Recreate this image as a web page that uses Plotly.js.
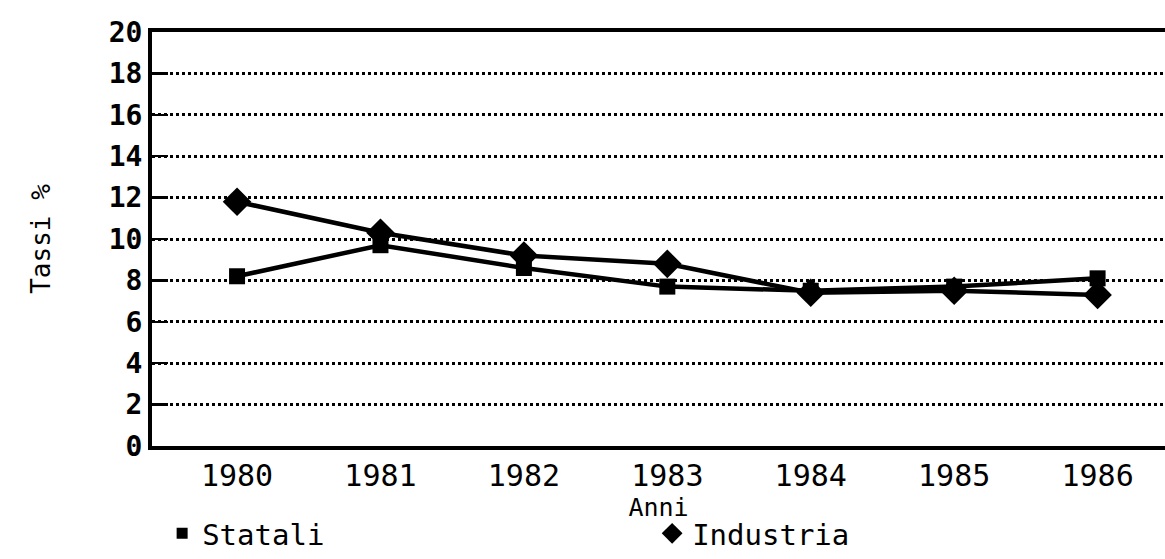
<!DOCTYPE html>
<html>
<head>
<meta charset="utf-8">
<script src="https://cdn.plot.ly/plotly-3.0.1.min.js"></script>
<style>html,body{margin:0;padding:0;background:#fff;}#chart{width:1165px;height:559px;}</style>
</head>
<body>
<div id="chart"></div>
<script>
const years = ['1980', '1981', '1982', '1983', '1984', '1985', '1986'];
const statali = [8.2, 9.7, 8.6, 7.7, 7.5, 7.7, 8.1];
const industria = [11.8, 10.3, 9.2, 8.8, 7.4, 7.5, 7.3];
const yTicks = [0, 2, 4, 6, 8, 10, 12, 14, 16, 18, 20];

const FONT = 'DejaVu Sans Mono, monospace';

const traces = [
  {x: years, y: statali, type: 'scatter', mode: 'lines+markers', name: 'Statali', showlegend: false,
   line: {color: '#000', width: 4.5}, marker: {symbol: 'square', size: 16, color: '#000'}},
  {x: years, y: industria, type: 'scatter', mode: 'lines+markers', name: 'Industria', showlegend: false,
   line: {color: '#000', width: 4.5}, marker: {symbol: 'diamond', size: 22, color: '#000'}},
  {x: [years[0]], y: [null], type: 'scatter', mode: 'markers', name: 'Statali',
   marker: {symbol: 'square', size: 11, color: '#000'}},
  {x: [years[0]], y: [null], type: 'scatter', mode: 'markers', name: 'Industria',
   marker: {symbol: 'diamond', size: 17, color: '#000'}}
];

const layout = {
  width: 1165, height: 559,
  margin: {l: 152, r: 0, t: 32, b: 108},
  paper_bgcolor: '#fff', plot_bgcolor: '#fff',
  font: {family: FONT, color: '#000'},
  xaxis: {
    type: 'category', range: [-0.593, 6.47],
    showline: true, linewidth: 4, linecolor: '#000', mirror: true,
    showgrid: false, zeroline: false, ticks: '',
    tickfont: {size: 30, family: FONT},
    title: {text: 'Anni', font: {size: 25, family: FONT}, standoff: 0}
  },
  yaxis: {
    range: [0, 20], tickvals: yTicks, ticktext: yTicks.map(String),
    showline: true, linewidth: 4, linecolor: '#000',
    showgrid: true, gridcolor: '#000', gridwidth: 3, griddash: 'dot',
    zeroline: false, ticks: 'inside', ticklen: 16, tickwidth: 2.5, tickcolor: '#000',
    tickfont: {size: 28, family: FONT, weight: 'bold'},
    title: {text: 'Tassi %', font: {size: 26, family: FONT}, standoff: 52}
  },
  legend: {
    orientation: 'h', x: 0.01, xanchor: 'left', y: -0.212, yanchor: 'middle',
    font: {size: 29, family: FONT}, entrywidth: 445, entrywidthmode: 'pixels',
    itemwidth: 30, bgcolor: 'rgba(0,0,0,0)'
  },
  showlegend: true
};

Plotly.newPlot('chart', traces, layout, {displayModeBar: false, staticPlot: true});
</script>
</body>
</html>
